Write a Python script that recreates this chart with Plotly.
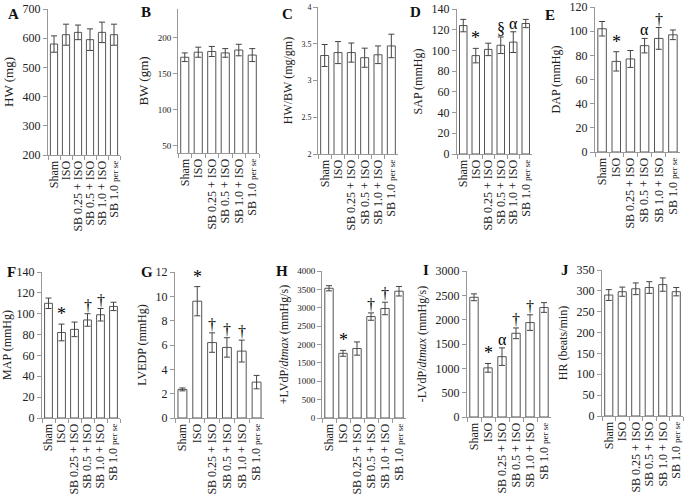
import plotly.graph_objects as go

categories = ["Sham", "ISO", "SB 0.25 + ISO", "SB 0.5 + ISO", "SB 1.0 + ISO",
              "SB 1.0 <span style='font-size:9px'>per se</span>"]

hw_mean = [580, 612, 620, 595, 620, 612]
hw_err = [28, 36, 25, 37, 35, 36]
bw_mean = [173, 180, 181, 179, 183, 176]
bw_err = [6, 7, 7, 6, 8, 9]
hwbw_mean = [3.34, 3.38, 3.38, 3.31, 3.35, 3.47]
hwbw_err = [0.15, 0.15, 0.13, 0.13, 0.12, 0.16]
sap_mean = [124, 95, 101, 105, 108, 126]
sap_err = [6, 7, 6, 8, 10, 4]
dap_mean = [102, 75, 77, 88, 94, 97]
dap_err = [6, 8, 7, 6, 9, 4]
map_mean = [110, 82, 85, 94, 99, 107]
map_err = [5, 8, 7, 6, 6, 4]
lvedp_mean = [2.35, 9.6, 6.2, 5.8, 5.5, 2.95]
lvedp_err = [0.12, 1.2, 0.8, 0.8, 0.9, 0.55]
plvdp_mean = [3530, 1760, 1890, 2760, 2980, 3450]
plvdp_err = [70, 80, 180, 100, 170, 130]
mlvdp_mean = [2460, 1010, 1240, 1720, 1940, 2250]
mlvdp_err = [70, 90, 180, 110, 160, 100]
hr_mean = [290, 298, 305, 308, 315, 298]
hr_err = [13, 11, 14, 14, 16, 10]

sap_marks = ["", "*", "", "§", "α", ""]
dap_marks = ["", "*", "", "α", "†", ""]
map_marks = ["", "*", "", "†", "†", ""]
lvedp_marks = ["", "*", "†", "†", "†", ""]
plvdp_marks = ["", "*", "", "†", "†", ""]
mlvdp_marks = ["", "*", "α", "†", "†", ""]
none_marks = [""] * 6

W, H = 685, 495
SERIF = "Liberation Serif, Times New Roman, serif"

# letter, title, mean, err, marks, y-range, dtick, px box (x0,x1,ytop,ybot), tick font, title font, letter pos
panels = [
    ("A", "HW (mg)", hw_mean, hw_err, none_marks, [200, 700], 100, (48, 120, 9, 155), 12, 13, (6, 14)),
    ("B", "BW (gm)", bw_mean, bw_err, none_marks, [40, 240], 50, (178, 259, 9, 153), 9, 13, (139, 12)),
    ("C", "HW/BW (mg/gm)", hwbw_mean, hwbw_err, none_marks, [2, 4], 0.5, (318, 398, 7, 154), 8, 12, (280, 14)),
    ("D", "SAP (mmHg)", sap_mean, sap_err, sap_marks, [0, 140], 20, (457, 532, 9, 154), 12, 12, (408, 12)),
    ("E", "DAP (mmHg)", dap_mean, dap_err, dap_marks, [0, 120], 20, (595, 680, 7, 152), 12, 12, (543, 15)),
    ("F", "MAP (mmHg)", map_mean, map_err, map_marks, [0, 140], 20, (42, 120, 272, 418), 12, 12, (5, 272)),
    ("G", "LVEDP (mmHg)", lvedp_mean, lvedp_err, lvedp_marks, [0, 12], 2, (175, 264, 272, 418), 12, 12, (139, 272)),
    ("H", "+LVdP/<i>dtmax</i> (mmHg/s)", plvdp_mean, plvdp_err, plvdp_marks, [0, 4000], 500, (322, 406, 271, 418), 9, 12, (274, 271)),
    ("I", "-LVdP/<i>dtmax</i> (mmHg/s)", mlvdp_mean, mlvdp_err, mlvdp_marks, [0, 3000], 500, (467, 551, 271, 417), 12, 12, (421, 270)),
    ("J", "HR (beats/min)", hr_mean, hr_err, none_marks, [0, 350], 50, (602, 683, 270, 416), 12, 12, (559, 270)),
]

fig = go.Figure()
annotations = []
layout = {}
for i, (letter, title, mean, err, marks, yr, dt, box, tfs, ttfs, lpos) in enumerate(panels):
    n = i + 1
    xa = "x" if n == 1 else f"x{n}"
    ya = "y" if n == 1 else f"y{n}"
    fig.add_trace(go.Bar(
        x=categories, y=mean, xaxis=xa, yaxis=ya,
        marker=dict(color="white", line=dict(color="#555555", width=1)),
        error_y=dict(type="data", array=err, visible=True, color="#444444", thickness=1, width=3),
        showlegend=False,
    ))
    x0, x1, yt, yb = box
    xkey = "xaxis" if n == 1 else f"xaxis{n}"
    ykey = "yaxis" if n == 1 else f"yaxis{n}"
    layout[xkey] = dict(
        domain=[x0 / W, x1 / W], anchor=ya, type="category", automargin=False,
        range=[-0.5, 5.5], showline=True, linecolor="#999999", linewidth=1,
        tickmode="array", tickvals=categories, ticktext=categories,
        ticks="outside", tickson="boundaries", ticklen=4, tickcolor="#999999",
        tickangle=-90, tickfont=dict(family=SERIF, size=12, color="#222222"),
        showgrid=False, zeroline=False, fixedrange=True,
    )
    layout[ykey] = dict(
        domain=[1 - yb / H, 1 - yt / H], anchor=xa, range=yr, dtick=dt, automargin=False,
        showline=True, linecolor="#999999", linewidth=1,
        ticks="outside", ticklen=4, tickcolor="#999999",
        tickfont=dict(family=SERIF, size=tfs, color="#222222"),
        title=dict(text=title, font=dict(family=SERIF, size=ttfs, color="#222222"), standoff=6),
        showgrid=False, zeroline=False, fixedrange=True,
    )
    for c, m, e, mk in zip(categories, mean, err, marks):
        if mk:
            annotations.append(dict(
                x=c, y=m + e, xref=xa, yref=ya, text=mk, showarrow=False,
                yanchor="bottom", yshift=-2,
                font=dict(family=SERIF, size=16 if mk != "*" else 18, color="#000000"),
            ))
    annotations.append(dict(
        x=lpos[0] / W, y=1 - lpos[1] / H, xref="paper", yref="paper",
        text=f"<b>{letter}</b>", showarrow=False, xanchor="left", yanchor="middle",
        font=dict(family=SERIF, size=15, color="#111111"),
    ))

fig.update_layout(
    width=W, height=H, margin=dict(l=0, r=0, t=0, b=0, autoexpand=False),
    paper_bgcolor="white", plot_bgcolor="white", hovermode=False,
    bargap=0.4, annotations=annotations, **layout,
)

fig.write_html("out.html", config={"displayModeBar": False, "staticPlot": True},
               post_script="document.body.style.margin='0';document.body.style.padding='0';")
